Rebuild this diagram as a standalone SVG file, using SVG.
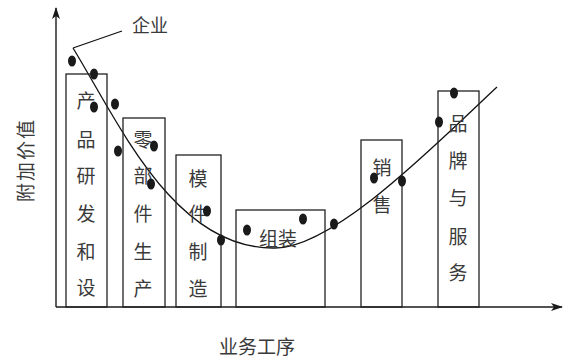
<svg xmlns="http://www.w3.org/2000/svg" width="564" height="358" viewBox="0 0 564 358">
<defs>
<style>
.ax{stroke:#1a1a1a;stroke-width:1.4;fill:none}
.bx{stroke:#222;stroke-width:1.3;fill:none}
.cv{stroke:#111;stroke-width:1.3;fill:none}
.dot{fill:#1a1a1a}
.t{font-family:"Noto Sans CJK SC","Noto Sans CJK JP",sans-serif;font-size:19px;fill:#3a3a3a;text-anchor:middle;dominant-baseline:central}
</style>
<marker id="ah" viewBox="0 0 12 8" refX="11" refY="4" markerWidth="12" markerHeight="8" markerUnits="userSpaceOnUse" orient="auto">
<path d="M0,0 L12,4 L0,8 L3,4 Z" fill="#1a1a1a"/>
</marker>
</defs>
<rect width="564" height="358" fill="#fff"/>
<g id="connectors">
<path class="ax" d="M56,307 V8" marker-end="url(#ah)"/>
<path class="ax" d="M56,307 H562" marker-end="url(#ah)"/>
<path class="cv" d="M73,48 C120,125 175,250 275,248 C335,248 440,140 497,87"/>
<path class="cv" d="M73,48 L122,31"/>
</g>
<g id="label-enterprise"><text class="t" x="150" y="24" style="font-size:18px">企业</text></g>
<g id="label-y"><text class="t" transform="translate(24,160) rotate(-90)" style="letter-spacing:2px">附加价值</text></g>
<g id="label-x"><text class="t" x="257" y="345">业务工序</text></g>
<g id="box-rd">
<rect class="bx" x="66" y="74" width="41" height="233"/>
<text class="t" x="86" y="99">产</text><text class="t" x="86" y="138">品</text><text class="t" x="86" y="174">研</text><text class="t" x="86" y="212">发</text><text class="t" x="86" y="250">和</text><text class="t" x="86" y="286">设</text>
</g>
<g id="box-parts">
<rect class="bx" x="123" y="118" width="42" height="189"/>
<text class="t" x="143" y="138">零</text><text class="t" x="143" y="174">部</text><text class="t" x="143" y="212">件</text><text class="t" x="143" y="250">生</text><text class="t" x="143" y="287">产</text>
</g>
<g id="box-module">
<rect class="bx" x="176" y="155" width="45" height="152"/>
<text class="t" x="198" y="177">模</text><text class="t" x="198" y="212">件</text><text class="t" x="198" y="250">制</text><text class="t" x="198" y="287">造</text>
</g>
<g id="box-assembly">
<rect class="bx" x="236" y="210" width="89" height="97"/>
<text class="t" x="278" y="237">组装</text>
</g>
<g id="box-sales">
<rect class="bx" x="361" y="140" width="41" height="167"/>
<text class="t" x="382" y="166">销</text><text class="t" x="382" y="203">售</text>
</g>
<g id="box-brand">
<rect class="bx" x="438" y="91" width="41" height="216"/>
<text class="t" x="458" y="122">品</text><text class="t" x="458" y="159">牌</text><text class="t" x="458" y="196">与</text><text class="t" x="458" y="235">服</text><text class="t" x="458" y="271">务</text>
</g>
<g id="dots">
<ellipse class="dot" cx="72" cy="61" rx="4" ry="5.5"/>
<ellipse class="dot" cx="94" cy="74" rx="4" ry="5.5"/>
<ellipse class="dot" cx="94" cy="107" rx="4" ry="5.5"/>
<ellipse class="dot" cx="115" cy="104" rx="4" ry="5.5"/>
<ellipse class="dot" cx="118" cy="151" rx="4" ry="5.5"/>
<ellipse class="dot" cx="154" cy="146" rx="4" ry="5.5"/>
<ellipse class="dot" cx="151" cy="184" rx="4" ry="5.5"/>
<ellipse class="dot" cx="207" cy="211" rx="4" ry="5.5"/>
<ellipse class="dot" cx="221" cy="240" rx="4" ry="5.5"/>
<ellipse class="dot" cx="247" cy="230" rx="4" ry="5.5"/>
<ellipse class="dot" cx="303" cy="219" rx="4" ry="5.5"/>
<ellipse class="dot" cx="334" cy="224" rx="4" ry="5.5"/>
<ellipse class="dot" cx="374" cy="178" rx="4" ry="5.5"/>
<ellipse class="dot" cx="402" cy="181" rx="4" ry="5.5"/>
<ellipse class="dot" cx="439" cy="122" rx="4" ry="5.5"/>
<ellipse class="dot" cx="454" cy="93" rx="4" ry="5.5"/>
</g>
</svg>
